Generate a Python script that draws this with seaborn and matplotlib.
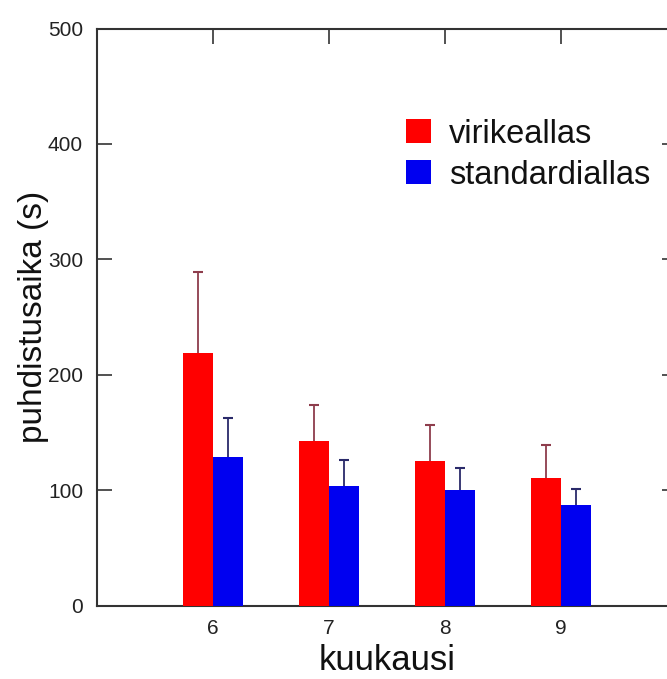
import matplotlib
matplotlib.use("Agg")
import matplotlib.pyplot as plt
import seaborn as sns
import pandas as pd
import numpy as np

months = ["6", "7", "8", "9"]
series = ["virikeallas", "standardiallas"]
viri_mean = [218.6, 142.5, 125.5, 110.7]
viri_err = [70.0, 31.0, 31.0, 28.0]
std_mean = [128.4, 103.5, 100.3, 87.3]
std_err = [34.0, 23.0, 18.6, 14.0]
yticks = [0, 100, 200, 300, 400, 500]

sns.set_theme(style="ticks")
plt.rcParams['font.family'] = ['Liberation Sans', 'DejaVu Sans']

df = pd.DataFrame({
    "kuukausi": months * 2,
    "sarja": [series[0]] * 4 + [series[1]] * 4,
    "arvo": viri_mean + std_mean,
})

fig = plt.figure(figsize=(6.67, 6.79), dpi=100)
ax = fig.add_axes([97/667, 1 - 605.5/679, 580/667, (605.5 - 28.5)/679])

sns.barplot(data=df, x="kuukausi", y="arvo", hue="sarja", order=months,
            hue_order=series, palette=["#ff0000", "#0000f0"], width=0.51,
            errorbar=None, saturation=1, linewidth=0, ax=ax, legend=True)
for cont in ax.containers:
    for p in cont.patches:
        p.set_zorder(3)

errs = {series[0]: (viri_mean, viri_err, "#8e3d4c"),
        series[1]: (std_mean, std_err, "#2a2a6a")}
for cont, name in zip(ax.containers, series):
    means, e, col = errs[name]
    xs = [p.get_x() + p.get_width() / 2 for p in cont.patches]
    eb = ax.errorbar(xs, means, yerr=[np.zeros(len(e)), e], fmt="none",
                     ecolor=col, elinewidth=1.3, capsize=3.5, capthick=1.5, zorder=2)
    eb[1][0].set_visible(False)

ax.set_xlim(-1, 4)
ax.set_ylim(0, 500)
ax.set_yticks(yticks)
ax.set_yticklabels([str(v) for v in yticks])

for lab in ax.get_xticklabels() + ax.get_yticklabels():
    lab.set_fontsize(15)
    lab.set_color("#222222")

ax.tick_params(direction="in", length=11, width=1.2, color="#333333",
               top=True, right=True, pad=10)
for s in ax.spines.values():
    s.set_color("#333333")
    s.set_linewidth(1.5)

ax.set_xlabel("kuukausi", fontsize=25, color="#111111", labelpad=4)
ax.set_ylabel("puhdistusaika (s)", fontsize=24, color="#111111")
ax.yaxis.set_label_coords(-(97 - 49) / 580, 0.5)

leg = ax.legend(loc="upper left", bbox_to_anchor=(293/580, 1 - 74/577),
                frameon=False, fontsize=23.5, handlelength=0.75, handleheight=0.75,
                handletextpad=0.55, labelspacing=0.3, borderpad=0)
for t in leg.get_texts():
    t.set_color("#111111")

fig.savefig("out.png", dpi=100)
